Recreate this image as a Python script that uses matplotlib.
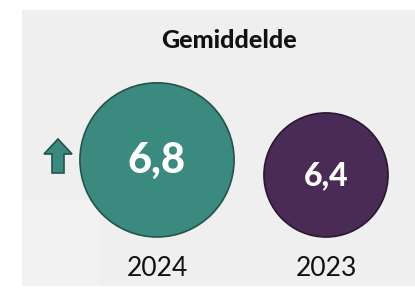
import matplotlib
matplotlib.use("Agg")
import matplotlib.pyplot as plt
from matplotlib.patches import Circle, Polygon, Rectangle

# data
years = ["2024", "2023"]
values = [6.8, 6.4]
labels = ["6,8", "6,4"]
colors = ["#3a8a80", "#4a2b55"]
edges = ["#24524c", "#2a1730"]
title = "Gemiddelde"

W, H = 415, 293
fig = plt.figure(figsize=(W / 100, H / 100), dpi=100)
fig.patch.set_facecolor("white")
ax = fig.add_axes([0, 0, 1, 1])
ax.set_xlim(0, W)
ax.set_ylim(H, 0)
ax.axis("off")

# panel
ax.add_patch(Rectangle((22, 10), W - 22, 276, facecolor="#efefef", edgecolor="none"))
ax.add_patch(Rectangle((22, 200), 78, 86, facecolor="#f2f2f2", edgecolor="none"))

ax.text(229, 41, title, ha="center", va="center", fontsize=18,
        fontweight="black", family="Lato", color="#111111")

# circles: radius grows with value
xs = [157, 326]
base_y = 237
fsizes = [30, 23]
for i, v in enumerate(values):
    r = 37.6 * (v - 4.75)
    cy = base_y - r
    ax.add_patch(Circle((xs[i], cy), r, facecolor=colors[i],
                        edgecolor=edges[i], linewidth=1.2))
    ax.text(xs[i], cy + 1, labels[i], ha="center", va="center",
            fontsize=fsizes[i], fontweight="black", family="Lato", color="white")
    ax.text(xs[i], 268, years[i], ha="center", va="center",
            fontsize=19, family="Lato", color="#111111")

# trend arrow
ax0, ay0 = 58, 156
arrow = [(ax0 - 14, ay0 - 2), (ax0, ay0 - 17), (ax0 + 14, ay0 - 2),
         (ax0 + 6, ay0 - 2), (ax0 + 6, ay0 + 17), (ax0 - 6, ay0 + 17),
         (ax0 - 6, ay0 - 2)]
ax.add_patch(Polygon(arrow, closed=True, facecolor=colors[0],
                     edgecolor=edges[0], linewidth=1.2))

fig.savefig("out.png", dpi=100)
